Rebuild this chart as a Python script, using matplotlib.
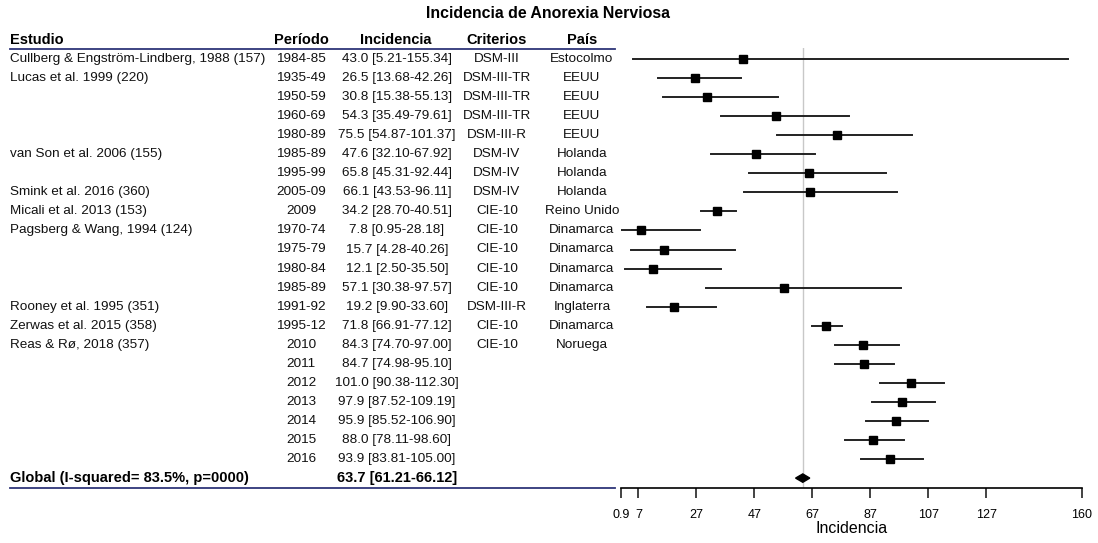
import matplotlib.pyplot as plt
import matplotlib.transforms as mtransforms

plt.rcParams['font.family'] = ['Liberation Sans', 'DejaVu Sans']

estudios = ["Cullberg & Engström-Lindberg, 1988 (157)", "Lucas et al. 1999 (220)", "", "", "",
            "van Son et al. 2006 (155)", "", "Smink et al. 2016 (360)", "Micali et al. 2013 (153)",
            "Pagsberg & Wang, 1994 (124)", "", "", "", "Rooney et al. 1995 (351)",
            "Zerwas et al. 2015 (358)", "Reas & Rø, 2018 (357)", "", "", "", "", "", ""]
periodos = ["1984-85", "1935-49", "1950-59", "1960-69", "1980-89", "1985-89", "1995-99", "2005-09",
            "2009", "1970-74", "1975-79", "1980-84", "1985-89", "1991-92", "1995-12", "2010",
            "2011", "2012", "2013", "2014", "2015", "2016"]
incidencia = [43.0, 26.5, 30.8, 54.3, 75.5, 47.6, 65.8, 66.1, 34.2, 7.8, 15.7, 12.1, 57.1,
              19.2, 71.8, 84.3, 84.7, 101.0, 97.9, 95.9, 88.0, 93.9]
ic_inf = [5.21, 13.68, 15.38, 35.49, 54.87, 32.10, 45.31, 43.53, 28.70, 0.95, 4.28, 2.50, 30.38,
          9.90, 66.91, 74.70, 74.98, 90.38, 87.52, 85.52, 78.11, 83.81]
ic_sup = [155.34, 42.26, 55.13, 79.61, 101.37, 67.92, 92.44, 96.11, 40.51, 28.18, 40.26, 35.50,
          97.57, 33.60, 77.12, 97.00, 95.10, 112.30, 109.19, 106.90, 98.60, 105.00]
criterios = ["DSM-III", "DSM-III-TR", "DSM-III-TR", "DSM-III-TR", "DSM-III-R", "DSM-IV", "DSM-IV",
             "DSM-IV", "CIE-10", "CIE-10", "CIE-10", "CIE-10", "CIE-10", "DSM-III-R", "CIE-10",
             "CIE-10", "", "", "", "", "", ""]
paises = ["Estocolmo", "EEUU", "EEUU", "EEUU", "EEUU", "Holanda", "Holanda", "Holanda",
          "Reino Unido", "Dinamarca", "Dinamarca", "Dinamarca", "Dinamarca", "Inglaterra",
          "Dinamarca", "Noruega", "", "", "", "", "", ""]
global_est = 63.7
global_inf = 61.21
global_sup = 66.12
xticks = [0.9, 7, 27, 47, 67, 87, 107, 127, 160]

W, H = 1098, 543
fig = plt.figure(figsize=(W / 100, H / 100), dpi=100)

# forest panel: x in incidence units, y in row units (row 0 at top)
ax_left, ax_right = 620.7, 1082
ax_top, ax_bot = 48, 488
row0, step = 59, 19.05
ax = fig.add_axes([ax_left / W, (H - ax_bot) / H, (ax_right - ax_left) / W, (ax_bot - ax_top) / H])
ax.set_xlim(0.9, 160)
ax.set_ylim((ax_bot - row0) / step, (ax_top - row0) / step)

n = len(incidencia)
filas = list(range(n))
ax.axvline(global_est, color='#c8c8c8', lw=1, zorder=0)
for i in filas:
    ax.plot([ic_inf[i], ic_sup[i]], [i, i], color='#222222', lw=1.4, zorder=2)
ax.plot(incidencia, filas, 's', color='black', ms=5.6, zorder=3)

# pooled estimate as diamond
ax.fill([global_inf, global_est, global_sup, global_est], [n, n - 0.22, n, n + 0.22],
        color='black', zorder=3)

for s in ['top', 'right', 'left']:
    ax.spines[s].set_visible(False)
ax.spines['bottom'].set_linewidth(1.2)
ax.spines['bottom'].set_bounds(0.9, 160)
ax.set_yticks([])
ax.set_xticks(xticks)
ax.set_xticklabels([str(t) for t in xticks], fontsize=9)
ax.tick_params(axis='x', direction='out', length=7, width=1.2, pad=8, color='#222222')
ax.set_xlabel("Incidencia", fontsize=11.5, labelpad=0)
ax.patch.set_alpha(0)

# table columns: x in figure pixels, y in row units
tr = mtransforms.blended_transform_factory(
    mtransforms.Affine2D().scale(1.0 / W, 1.0) + fig.transFigure, ax.transData)

cab = dict(fontsize=10.5, fontweight='bold', va='center', transform=tr, clip_on=False)
ax.text(10, -1, "Estudio", ha='left', **cab)
ax.text(301, -1, "Período", ha='center', **cab)
ax.text(396, -1, "Incidencia", ha='center', **cab)
ax.text(497, -1, "Criterios", ha='center', **cab)
ax.text(582, -1, "País", ha='center', **cab)

for i in filas:
    kw = dict(fontsize=9.7, va='center', transform=tr, clip_on=False, color='#111111')
    ax.text(10, i, estudios[i], ha='left', **kw)
    ax.text(301, i, periodos[i], ha='center', **kw)
    ax.text(397, i, f"{incidencia[i]:.1f} [{ic_inf[i]:.2f}-{ic_sup[i]:.2f}]", ha='center', **kw)
    ax.text(497, i, criterios[i], ha='center', **kw)
    ax.text(582, i, paises[i], ha='center', **kw)

ax.text(10, n, "Global (I-squared= 83.5%, p=0000)", ha='left', **cab)
ax.text(397, n, f"{global_est:.1f} [{global_inf:.2f}-{global_sup:.2f}]", ha='center', **cab)

# header and footer rules
lin = dict(color='#2e3578', lw=1.3, transform=tr, clip_on=False)
ax.plot([10, 615], [(49 - row0) / step] * 2, **lin)
ax.plot([10, 615], [(487.5 - row0) / step] * 2, **lin)

fig.text(548 / W, 1 - 13 / H, "Incidencia de Anorexia Nerviosa", ha='center', va='center',
         fontsize=11.4, fontweight='bold')

fig.savefig("out.png", dpi=100)
